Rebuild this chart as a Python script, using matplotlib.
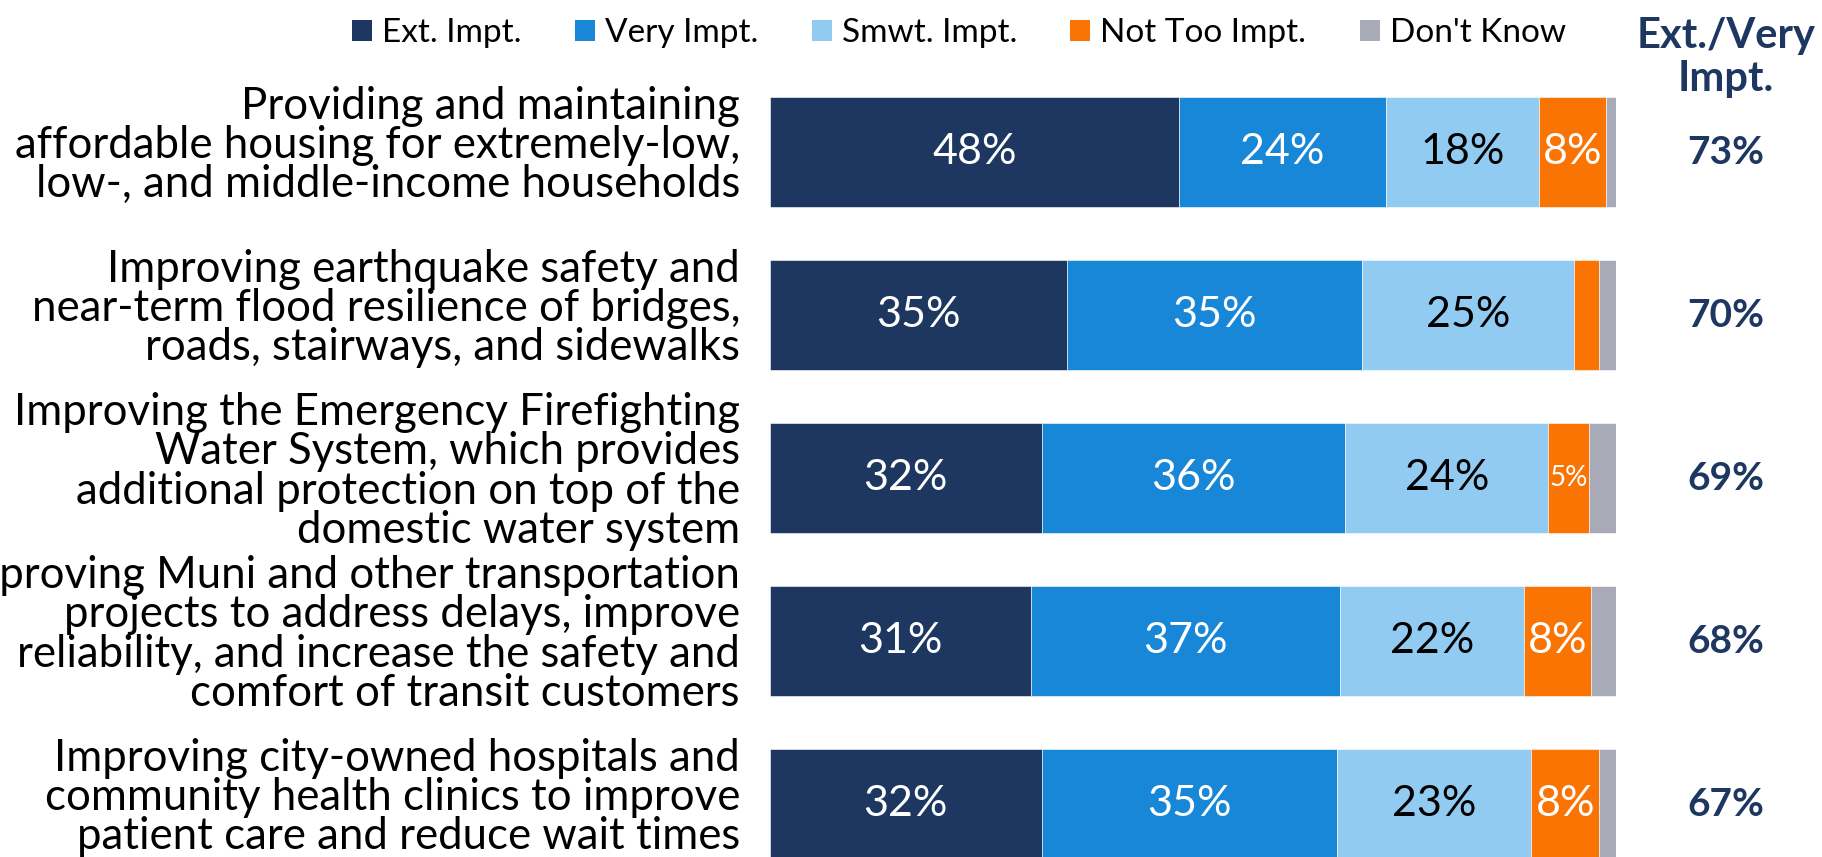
import matplotlib
matplotlib.use("Agg")
import matplotlib.pyplot as plt
from matplotlib.patches import Patch
from matplotlib.transforms import blended_transform_factory

plt.rcParams['font.family'] = ['Lato', 'DejaVu Sans']

# Survey items (top to bottom)
categories = [
    "Providing and maintaining\naffordable housing for extremely-low,\nlow-, and middle-income households",
    "Improving earthquake safety and\nnear-term flood resilience of bridges,\nroads, stairways, and sidewalks",
    "Improving the Emergency Firefighting\nWater System, which provides\nadditional protection on top of the\ndomestic water system",
    "Improving Muni and other transportation\nprojects to address delays, improve\nreliability, and increase the safety and\ncomfort of transit customers",
    "Improving city-owned hospitals and\ncommunity health clinics to improve\npatient care and reduce wait times",
]

series_names = ["Ext. Impt.", "Very Impt.", "Smwt. Impt.", "Not Too Impt.", "Don't Know"]

ext_impt = [48.4, 35.1, 32.1, 30.8, 32.1]
very_impt = [24.4, 34.9, 35.9, 36.6, 34.9]
smwt_impt = [18.1, 25.0, 24.0, 21.7, 23.0]
not_too_impt = [7.9, 3.0, 4.8, 7.9, 8.0]
dont_know = [1.2, 2.0, 3.2, 3.0, 2.0]

ext_very_total = [73, 70, 69, 68, 67]
total_header = "Ext./Very\nImpt."

colors = ["#1D3761", "#1887D7", "#92CBF2", "#F97402", "#A8AAB8"]
text_colors = ["white", "white", "black", "white", "white"]
navy = "#1D3761"

fig = plt.figure(figsize=(18.22, 8.57), dpi=100)
ax = fig.add_axes([770 / 1822, 0, 846 / 1822, 1])

series = [ext_impt, very_impt, smwt_impt, not_too_impt, dont_know]
rows = list(range(len(categories)))
left = [0.0] * len(categories)
handles = []
for vals, name, col, tcol in zip(series, series_names, colors, text_colors):
    ax.barh(rows, vals, left=left, height=0.67, color=col,
            edgecolor="white", linewidth=0.4, label=name)
    handles.append(Patch(facecolor=col, edgecolor="none", label=name))
    for r, v, l in zip(rows, vals, left):
        if v >= 4:
            fs = 31 if v >= 6 else 20
            ax.text(l + v / 2, r, f"{v:.0f}%", ha="center", va="center",
                    color=tcol, fontsize=fs)
    left = [a + b for a, b in zip(left, vals)]

ax.set_xlim(0, 100)
ax.set_ylim(4.325, -0.9325)
ax.set_xticks([])
ax.set_yticks([])
for s in ax.spines.values():
    s.set_visible(False)

# Item descriptions, right-aligned just left of the bars
label_tf = blended_transform_factory(ax.transAxes, ax.transData)
for r, cat in zip(rows, categories):
    ax.text(-30 / 846, r - 0.04, cat, transform=label_tf, ha="right", va="center",
            fontsize=31.5, linespacing=0.95, color="black", clip_on=False)

# Combined Ext./Very column on the right
xc = 113.0
ax.text(xc, -0.58, total_header, ha="center", va="center", color=navy,
        fontsize=30, fontweight="bold", linespacing=1.15, clip_on=False)
for r, t in zip(rows, ext_very_total):
    ax.text(xc, r, f"{t}%", ha="center", va="center", color=navy,
            fontsize=28, fontweight="bold", clip_on=False)

fig.legend(handles=handles, loc="center", bbox_to_anchor=(959 / 1822, 1 - 33 / 857),
           ncol=5, frameon=False, fontsize=24, handlelength=0.6, handleheight=0.6,
           handletextpad=0.3, columnspacing=1.6, borderpad=0, borderaxespad=0)

fig.savefig("out.png", dpi=100)
